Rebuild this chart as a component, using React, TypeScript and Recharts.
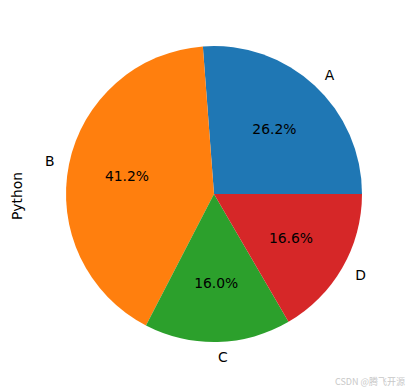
import { PieChart, Pie, Cell } from 'recharts'

const categories = ['A', 'B', 'C', 'D']
const values = [26.2, 41.2, 16.0, 16.6]
const colors = ['#1f77b4', '#ff7f0e', '#2ca02c', '#d62728']

const data = categories.map((name, i) => ({ name, value: values[i] }))

const RAD = Math.PI / 180
const FONT = 'DejaVu Sans, sans-serif'
const FS = 13.9

function renderLabel(props: any) {
    const { cx, cy, midAngle, outerRadius, index, percent } = props
    const cos = Math.cos(-midAngle * RAD)
    const sin = Math.sin(-midAngle * RAD)
    const ox = cx + outerRadius * 1.1 * cos
    const oy = cy + outerRadius * 1.1 * sin
    const ix = cx + outerRadius * 0.6 * cos
    const iy = cy + outerRadius * 0.6 * sin
    return (
        <g>
            <text x={ox} y={oy} fill="#000" fontSize={FS} fontFamily={FONT}
                textAnchor={cos >= 0 ? 'start' : 'end'} dominantBaseline="central">
                {categories[index]}
            </text>
            <text x={ix} y={iy} fill="#000" fontSize={FS} fontFamily={FONT}
                textAnchor="middle" dominantBaseline="central">
                {(percent * 100).toFixed(1)}%
            </text>
        </g>
    )
}

export default function App() {
    return (
        <div style={{ position: 'absolute', left: 0, top: 0, width: 409, height: 389, background: '#fff' }}>
            <PieChart width={409} height={389} margin={{ top: 0, right: 0, bottom: 0, left: 0 }}>
                <Pie
                    data={data}
                    dataKey="value"
                    cx={214}
                    cy={194}
                    outerRadius={148}
                    startAngle={0}
                    endAngle={360}
                    stroke="none"
                    label={renderLabel}
                    labelLine={false}
                    isAnimationActive={false}
                >
                    {data.map((d, i) => (
                        <Cell key={d.name} fill={colors[i]} />
                    ))}
                </Pie>
                <text x={17} y={196} transform="rotate(-90 17 196)" textAnchor="middle"
                    dominantBaseline="central" fontSize={FS} fontFamily={FONT} fill="#000">
                    Python
                </text>
                <text x={405} y={381} textAnchor="end" dominantBaseline="central"
                    fontSize={9} fontFamily="Noto Sans CJK SC, sans-serif" fill="#c8c8c8">
                    CSDN @腾飞开源
                </text>
            </PieChart>
        </div>
    )
}
